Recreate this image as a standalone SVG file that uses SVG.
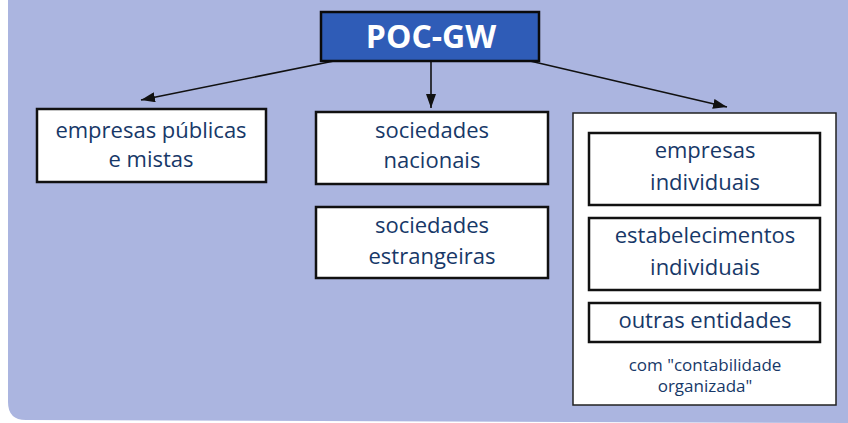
<svg xmlns="http://www.w3.org/2000/svg" width="848" height="423" viewBox="0 0 848 423">
  <style>
    .box { fill: #ffffff; stroke: #111111; stroke-width: 2.5; }
    .outer { fill: #ffffff; stroke: #222222; stroke-width: 1.5; }
    .lbl { font-family: "Open Sans", "Liberation Sans", Arial, sans-serif; font-size: 22px; font-weight: 500; fill: #173868; text-anchor: middle; }
    .small { font-family: "Open Sans", "Liberation Sans", Arial, sans-serif; font-size: 17px; font-weight: 500; fill: #173868; text-anchor: middle; }
    .title { font-family: "Open Sans", "Liberation Sans", Arial, sans-serif; font-size: 32px; font-weight: bold; fill: #ffffff; text-anchor: middle; }
    .conn { stroke: #111111; stroke-width: 1.6; fill: none; marker-end: url(#arrow); }
  </style>
  <defs>
    <marker id="arrow" viewBox="0 0 14 10" refX="14" refY="5" markerWidth="14" markerHeight="10" markerUnits="userSpaceOnUse" orient="auto">
      <path d="M0,0 L14,5 L0,10 Z" fill="#111111"/>
    </marker>
  </defs>
  <rect x="0" y="0" width="848" height="423" fill="#ffffff"/>
  <path d="M8,0 L848,0 L848,423 L26,420 Q8,420 8,402 Z" fill="#abb5e0"/>

  <g id="connectors">
    <line class="conn" x1="334" y1="61" x2="141" y2="100"/>
    <line class="conn" x1="431" y1="61" x2="431" y2="108"/>
    <line class="conn" x1="530" y1="61" x2="727" y2="107"/>
  </g>

  <g id="poc-gw">
    <rect x="321" y="12" width="218" height="49" fill="#2f5cb7" stroke="#0a0a0a" stroke-width="2.5"/>
    <text class="title" x="431" y="48">POC-GW</text>
  </g>

  <g id="empresas-publicas">
    <rect class="box" x="37" y="109" width="229" height="73"/>
    <text class="lbl" x="151" y="138">empresas públicas</text>
    <text class="lbl" x="151" y="167">e mistas</text>
  </g>

  <g id="sociedades-nacionais">
    <rect class="box" x="316" y="112" width="232" height="72"/>
    <text class="lbl" x="432" y="138">sociedades</text>
    <text class="lbl" x="432" y="168">nacionais</text>
  </g>

  <g id="sociedades-estrangeiras">
    <rect class="box" x="316" y="207" width="232" height="71"/>
    <text class="lbl" x="432" y="233">sociedades</text>
    <text class="lbl" x="432" y="264">estrangeiras</text>
  </g>

  <g id="grupo-direita">
    <rect class="outer" x="573" y="113" width="263" height="292"/>
    <text class="small" x="705" y="371">com "contabilidade</text>
    <text class="small" x="705" y="392">organizada"</text>
  </g>

  <g id="empresas-individuais">
    <rect class="box" x="589" y="133" width="231" height="72"/>
    <text class="lbl" x="705" y="158">empresas</text>
    <text class="lbl" x="705" y="190">individuais</text>
  </g>

  <g id="estabelecimentos-individuais">
    <rect class="box" x="589" y="218" width="231" height="72"/>
    <text class="lbl" x="705" y="243">estabelecimentos</text>
    <text class="lbl" x="705" y="275">individuais</text>
  </g>

  <g id="outras-entidades">
    <rect class="box" x="589" y="303" width="231" height="39"/>
    <text class="lbl" x="705" y="328">outras entidades</text>
  </g>
</svg>
